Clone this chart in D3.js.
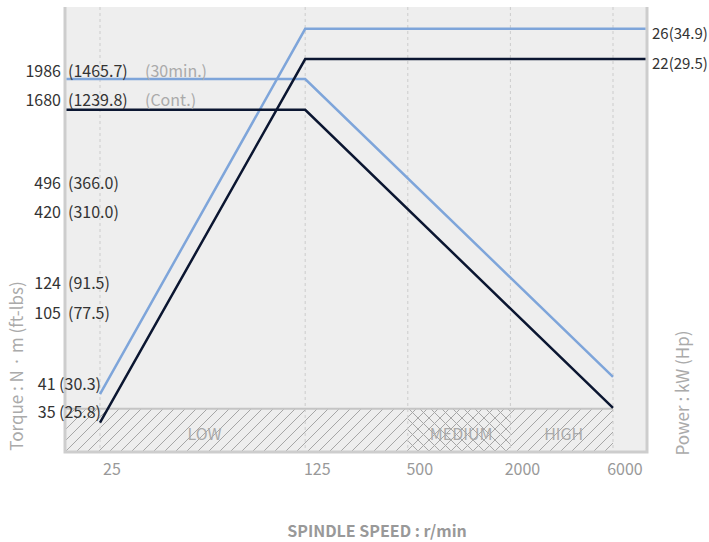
<!DOCTYPE html>
<html><head><meta charset="utf-8">
<script src="https://cdn.jsdelivr.net/npm/d3@7"></script>
<style>
body{margin:0;background:#fff}
svg{display:block}
text{font-family:"Noto Sans CJK KR","Noto Sans",sans-serif}
</style>
</head><body>
<svg id="c" width="709" height="542"></svg>
<script>
// ---- data ----
const speedTicks = [25, 125, 500, 2000, 6000];
const speedSlots = [0, 2, 3, 4, 5];           // ordinal slot of each tick on the non-linear speed axis
// vertical values in chart levels (0-100) of the schematic, non-linear axis
const power30min  = [[25, 13.0], [125, 95.1], [6000, 95.1]];
const powerCont   = [[25, 6.6],  [125, 88.3], [6000, 88.3]];
const torque30min = [[25, 83.8], [125, 83.8], [6000, 16.9]];
const torqueCont  = [[25, 76.9], [125, 76.9], [6000, 9.9]];
const powerLabels = ["26(34.9)", "22(29.5)"];
const torqueTickNm    = ["1986", "1680", "496", "420", "124", "105"];
const torqueTickFtLb  = ["(1465.7)", "(1239.8)", "(366.0)", "(310.0)", "(91.5)", "(77.5)"];
const torqueTickLevel = [85.6, 79.1, 60.4, 53.9, 38.0, 31.2];
const torqueNotes = ["(30min.)", "(Cont.)"];
const startLabels = ["41 (30.3)", "35 (25.8)"];
const startLevels = [15.1, 9.0];
const gearNames  = ["LOW", "MEDIUM", "HIGH"];
const gearRanges = [[25, 125], [500, 2000], [2000, 6000]];
const gearBandLevel = 9.7;

// ---- layout ----
const W = 709, H = 542;
const P = {l: 65, r: 647, t: 7, b: 452};
const BLUE = "#7ea5da", DARK = "#0b1631";
const svg = d3.select("#c");
const defs = svg.append("defs");

const slot = d3.scaleLinear().domain([0, 5]).range([P.l + 35, P.r - 34]);
const x = d3.scaleLinear().domain(speedTicks).range(speedSlots.map(slot));
const y = d3.scaleLinear().domain([0, 100]).range([P.b, P.t]);

// hatch patterns
const hs = 11;
const p1 = defs.append("pattern").attr("id", "hatch").attr("patternUnits", "userSpaceOnUse")
  .attr("width", hs).attr("height", hs);
p1.append("rect").attr("width", hs).attr("height", hs).attr("fill", "#eeeeee");
p1.append("path").attr("d", `M0,${hs} L${hs},0 M${-hs/2},${hs/2} L${hs/2},${-hs/2} M${hs/2},${hs*1.5} L${hs*1.5},${hs/2}`)
  .attr("stroke", "#a6a6a6").attr("stroke-width", 1);
const p2 = defs.append("pattern").attr("id", "cross").attr("patternUnits", "userSpaceOnUse")
  .attr("width", hs).attr("height", hs);
p2.append("rect").attr("width", hs).attr("height", hs).attr("fill", "#eeeeee");
p2.append("path").attr("d", `M0,${hs} L${hs},0 M${-hs/2},${hs/2} L${hs/2},${-hs/2} M${hs/2},${hs*1.5} L${hs*1.5},${hs/2} M0,0 L${hs},${hs} M${-hs/2},${hs/2} L${hs/2},${hs*1.5} M${hs/2},${-hs/2} L${hs*1.5},${hs/2}`)
  .attr("stroke", "#a6a6a6").attr("stroke-width", 1);

// plot background
svg.append("rect").attr("x", P.l).attr("y", P.t).attr("width", P.r - P.l).attr("height", P.b - P.t)
  .attr("fill", "#eeeeee");

// gear band (hatched)
const bandTop = y(gearBandLevel);
const lastTick = x(speedTicks[speedTicks.length - 1]);
svg.append("rect").attr("x", P.l).attr("y", bandTop).attr("width", lastTick - P.l).attr("height", P.b - bandTop)
  .attr("fill", "url(#hatch)");
svg.append("rect").attr("x", x(gearRanges[1][0])).attr("y", bandTop)
  .attr("width", x(gearRanges[1][1]) - x(gearRanges[1][0])).attr("height", P.b - bandTop)
  .attr("fill", "url(#cross)");
svg.append("line").attr("x1", P.l).attr("x2", lastTick).attr("y1", bandTop).attr("y2", bandTop)
  .attr("stroke", "#c4c4c4").attr("stroke-width", 2);

// vertical grid
svg.append("g").selectAll("line").data(speedTicks).join("line")
  .attr("x1", d => x(d)).attr("x2", d => x(d)).attr("y1", P.t).attr("y2", P.b)
  .attr("stroke", "#cccccc").attr("stroke-width", 1).attr("stroke-dasharray", "3,3");

// gear names
svg.append("g").selectAll("text").data(gearNames).join("text")
  .attr("x", (d, i) => (x(gearRanges[i][0]) + x(gearRanges[i][1])) / 2 + 2)
  .attr("y", (bandTop + P.b) / 2 + 4).attr("dy", "0.35em")
  .attr("text-anchor", "middle").attr("font-size", 16).attr("fill", "#aaaaaa")
  .text(d => d);

// frame borders
const fr = svg.append("g").attr("stroke", "#cdcdcd").attr("stroke-width", 3).attr("fill", "none");
fr.append("path").attr("d", `M${P.l},${P.t} V${P.b} H${P.r} V${P.t}`);

// curves
const line = d3.line();
function drawCurve(data, color, mode) {
  const pts = data.map(d => [x(d[0]), y(d[1])]);
  if (mode === "power") pts.push([P.r - 1.5, pts[pts.length - 1][1]]);
  else pts.unshift([P.l + 1.5, pts[0][1]]);
  svg.append("path").attr("d", line(pts)).attr("fill", "none")
    .attr("stroke", color).attr("stroke-width", 2.5).attr("stroke-linejoin", "miter");
}
drawCurve(torque30min, BLUE, "torque");
drawCurve(power30min, BLUE, "power");
drawCurve(torqueCont, DARK, "torque");
drawCurve(powerCont, DARK, "power");

// left torque tick labels
const lg = svg.append("g").attr("font-size", 16).attr("fill", "#333333");
lg.selectAll("text.nm").data(torqueTickNm).join("text").attr("class", "nm")
  .attr("x", P.l - 4).attr("y", (d, i) => y(torqueTickLevel[i])).attr("dy", "0.35em")
  .attr("text-anchor", "end").text(d => d);
lg.selectAll("text.ft").data(torqueTickFtLb).join("text").attr("class", "ft")
  .attr("x", P.l + 3).attr("y", (d, i) => y(torqueTickLevel[i])).attr("dy", "0.35em")
  .text(d => d);
svg.append("g").selectAll("text").data(torqueNotes).join("text")
  .attr("x", P.l + 80).attr("y", (d, i) => y(torqueTickLevel[i])).attr("dy", "0.35em")
  .attr("font-size", 16).attr("fill", "#aaaaaa").text(d => d);
lg.selectAll("text.st").data(startLabels).join("text").attr("class", "st")
  .attr("x", x(speedTicks[0]) + 1).attr("y", (d, i) => y(startLevels[i])).attr("dy", "0.35em")
  .attr("text-anchor", "end").text(d => d);

// right power labels
svg.append("g").selectAll("text").data(powerLabels).join("text")
  .attr("x", P.r + 5)
  .attr("y", (d, i) => y([power30min, powerCont][i][2][1]) + 5).attr("dy", "0.35em")
  .attr("font-size", 15).attr("fill", "#333333").text(d => d);

// x tick labels
svg.append("g").selectAll("text").data(speedTicks).join("text")
  .attr("x", d => x(d) + 12).attr("y", 469).attr("dy", "0.35em")
  .attr("text-anchor", "middle").attr("font-size", 16).attr("fill", "#999999").text(d => d);

// axis titles
svg.append("text").attr("transform", `translate(17,366) rotate(-90)`).attr("dy", "0.35em")
  .attr("text-anchor", "middle").attr("font-size", 17).attr("fill", "#aaaaaa")
  .text("Torque : N · m (ft-lbs)");
svg.append("text").attr("transform", `translate(683,393) rotate(-90)`).attr("dy", "0.35em")
  .attr("text-anchor", "middle").attr("font-size", 17).attr("fill", "#aaaaaa")
  .text("Power : kW (Hp)");
svg.append("text").attr("x", 377).attr("y", 531).attr("dy", "0.35em")
  .attr("text-anchor", "middle").attr("font-size", 16).attr("font-weight", "bold").attr("fill", "#999999")
  .text("SPINDLE SPEED : r/min");
</script>
</body></html>
